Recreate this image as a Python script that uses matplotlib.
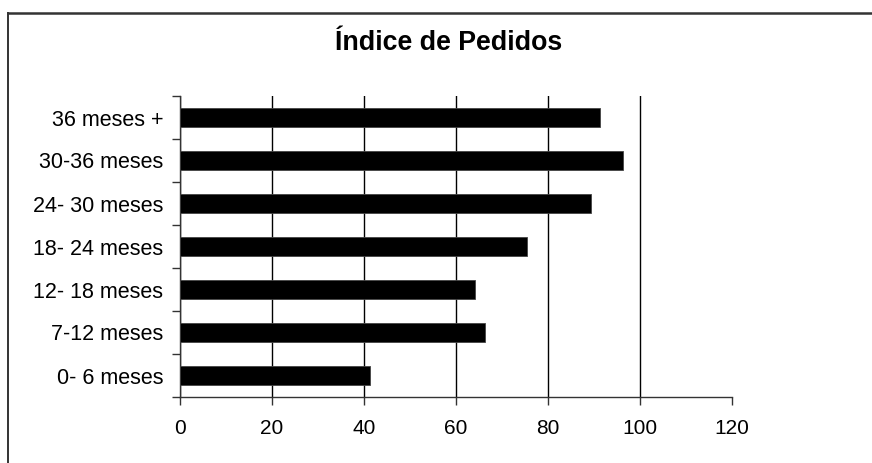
import matplotlib
matplotlib.use("Agg")
import matplotlib.pyplot as plt
from matplotlib.lines import Line2D

plt.rcParams['font.family'] = ['Liberation Sans', 'DejaVu Sans']

categorias = ['0- 6 meses', '7-12 meses', '12- 18 meses', '18- 24 meses',
              '24- 30 meses', '30-36 meses', '36 meses +']
indice = [41.2, 66.3, 64.2, 75.5, 89.3, 96.4, 91.2]
ticks_x = [0, 20, 40, 60, 80, 100, 120]

fig = plt.figure(figsize=(8.72, 4.63), dpi=100)
ax = fig.add_axes([180 / 872, 1 - 397 / 463, 552 / 872, 301 / 463])

pos = range(len(categorias))
ax.barh(pos, indice, height=0.42, color='black', edgecolor='#444444',
        linewidth=0.6, zorder=3)

ax.set_xlim(0, 120)
ax.set_ylim(-0.5, len(categorias) - 0.5)
ax.set_xticks(ticks_x)
ax.set_yticks(list(pos))
ax.set_yticklabels(categorias)
# tick marks between the categories, labels centred on the bars
ax.set_yticks([i - 0.5 for i in range(len(categorias) + 1)], minor=True)
ax.tick_params(axis='y', which='major', length=0, pad=12, labelsize=15.5)
ax.tick_params(axis='y', which='minor', length=6, width=1, color='#333333')
ax.tick_params(axis='x', length=6, width=1, color='#333333', pad=10,
               labelsize=15)

ax.xaxis.grid(True, color='black', linewidth=1, zorder=0)
ax.xaxis.get_gridlines()[-1].set_visible(False)
ax.set_axisbelow(True)

for s in ['top', 'right']:
    ax.spines[s].set_visible(False)
for s in ['left', 'bottom']:
    ax.spines[s].set_color('#333333')
    ax.spines[s].set_linewidth(1)

fig.text(449 / 872, 1 - 50 / 463, 'Índice de Pedidos', ha='center',
         va='baseline', fontsize=19.3, fontweight='bold')

# outer frame (top and left edges)
fig.add_artist(Line2D([8 / 872, 1], [1 - 12.5 / 463] * 2, color='#333333',
                      linewidth=1.8, transform=fig.transFigure))
fig.add_artist(Line2D([8 / 872] * 2, [0, 1 - 12.5 / 463], color='#333333',
                      linewidth=1.4, transform=fig.transFigure))

fig.savefig('out.png', dpi=100)
